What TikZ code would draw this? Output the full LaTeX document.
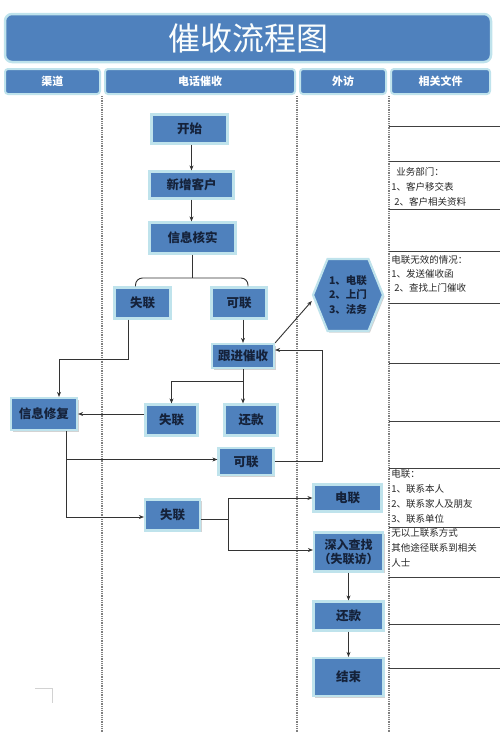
\documentclass[tikz,border=0pt]{standalone}
\usepackage{fontspec}
\setmainfont{Noto Sans CJK SC}
\usetikzlibrary{shapes.symbols}
\usetikzlibrary{shadows}
\usetikzlibrary{arrows.meta}

\definecolor{cellblue}{HTML}{4F81BD}
\definecolor{cellrim}{HTML}{BFE3EC}
\definecolor{inkblue}{HTML}{15223A}

\begin{document}
\begin{tikzpicture}[x=1pt,y=-1pt,thick,
	>={Stealth[length=5pt,width=4pt]},
	box/.style={draw=cellrim,line width=2.2pt,fill=cellblue,text=inkblue,align=center,inner sep=1pt,
		font=\bfseries\fontsize{12.5}{14}\selectfont,
		drop shadow={shadow xshift=1.5pt,shadow yshift=-1.5pt,opacity=0.35}},
	head/.style={draw=cellrim,line width=2pt,fill=cellblue,rounded corners=3pt,text=white,
		font=\bfseries\fontsize{11}{12}\selectfont,minimum height=25pt},
	doc/.style={anchor=west,align=left,inner sep=0pt,text=black!85,font=\fontsize{9.5}{15}\selectfont},
	lane/.style={gray,line width=1.1pt,dash pattern=on 0.9pt off 0.9pt},
	rule/.style={black!75,line width=0.8pt},
	link/.style={black!80,line width=0.9pt}]
	\useasboundingbox (0,0) rectangle (500,732);

	% title and lane heads
	\node[head,rounded corners=7pt,line width=2.5pt,minimum width=486pt,minimum height=48pt,
		font=\fontsize{32}{32}\selectfont,text=white!92!cellrim] (title) at (248,38) {催收流程图};
	\node[head,minimum width=95pt] (hchan) at (52.5,81.5) {渠道};
	\node[head,minimum width=190pt] (hcall) at (200,81.5) {电话催收};
	\node[head,minimum width=86pt] (hvisit) at (343,81.5) {外访};
	\node[head,minimum width=99pt] (hdoc) at (440.5,81.5) {相关文件};

	\foreach \lx in {102,297,389}
		\draw[lane] (\lx,96) -- (\lx,732);
	\foreach \ry in {126,161,209,251,303,363,421,468,527,577,624,668}
		\draw[rule] (389,\ry) -- (500,\ry);

	% documents
	\node[doc] (docdept) at (391,187) {\hspace*{5pt}业务部门：\\1、客户移交表\\\hspace*{3pt}2、客户相关资料};
	\node[doc,font=\fontsize{9.5}{14}\selectfont] (docfail) at (391,274) {电联无效的情况：\\1、发送催收函\\\hspace*{3pt}2、查找上门催收};
	\node[doc] (doccall) at (391,496) {电联：\\1、联系本人\\2、联系家人及朋友\\3、联系单位};
	\node[doc] (docdeep) at (391,548) {无以上联系方式\\其他途径联系到相关\\人士};

	% steps
	\node[box,minimum width=76pt,minimum height=29pt] (start) at (189.5,129) {开始};
	\node[box,minimum width=84pt,minimum height=27pt] (newc) at (191.5,185) {新增客户};
	\node[box,minimum width=86pt,minimum height=31pt] (check) at (192.5,238) {信息核实};
	\node[box,minimum width=56pt,minimum height=31pt] (lostA) at (142.5,303) {失联};
	\node[box,minimum width=55pt,minimum height=31pt] (okA) at (239,303) {可联};
	\node[box,minimum width=62pt,minimum height=24pt] (follow) at (243,356) {跟进催收};
	\node[box,shape=signal,signal to=west and east,signal pointer angle=136,
		minimum width=70pt,minimum height=72pt,
		font=\bfseries\fontsize{10.5}{14.5}\selectfont] (ways) at (348,295) {1、电联\\2、上门\\3、法务};
	\node[box,minimum width=66pt,minimum height=32pt] (repair) at (44,414) {信息修复};
	\node[box,minimum width=52pt,minimum height=31pt] (lostB) at (171.5,420) {失联};
	\node[box,minimum width=53pt,minimum height=31pt] (payA) at (251,420) {还款};
	\node[box,minimum width=55pt,minimum height=27pt] (okB) at (246,461.5) {可联};
	\node[box,minimum width=55pt,minimum height=31pt] (lostC) at (172.5,515) {失联};
	\node[box,minimum width=68pt,minimum height=27pt] (call) at (347.5,498) {电联};
	\node[box,minimum width=69pt,minimum height=39pt,font=\bfseries\fontsize{12}{14}\selectfont] (deep) at (348.5,552) {深入查找\\（失联访）};
	\node[box,minimum width=70pt,minimum height=29pt] (payB) at (348.5,616) {还款};
	\node[box,minimum width=70pt,minimum height=38pt] (finish) at (348.5,677) {结束};

	% connectors
	\coordinate (fork) at (192,278);
	\draw[link,->] (start.south -| newc.north) -- (newc.north);
	\draw[link,->] (newc.south) -- (newc.south |- check.north);
	\draw[link] (check.south -| fork) -- (fork);
	\draw[link,rounded corners=7pt] ([xshift=-7pt]lostA.north) -- ([xshift=-7pt]lostA.north |- fork)
		-- ([xshift=9pt]okA.north |- fork) -- ([xshift=9pt]okA.north);
	\draw[link,->] (okA.south -| follow.north) -- (follow.north);
	\draw[link,->] (follow.north east) -- ([yshift=-6pt]ways.west);
	\draw[link,->] ([xshift=-14pt]lostA.south) -- ++(0,40) -| ([xshift=15pt]repair.north);
	\draw[link,->] (follow.south) -- (follow.south |- payA.north);
	\draw[link,->] (follow.south) ++(0,12) -| (lostB.north);
	\draw[link,->] (lostB.west |- repair.east) -- (repair.east);
	\draw[link,->] ([xshift=22pt]repair.south) |- ([yshift=2pt]okB.west);
	\draw[link,->] ([xshift=22pt]repair.south) |- ([yshift=-2pt]lostC.west);
	\draw[link,->] (okB.east) -- ++(48,0) |- ([yshift=6pt]follow.east);
	\draw[link,->] ([yshift=-4pt]lostC.east) -- ++(27,0) |- (call.west);
	\draw[link,->] ([yshift=-4pt]lostC.east) -- ++(27,0) |- ([yshift=2pt]deep.west);
	\draw[link,->] (deep) -- (payB);
	\draw[link,->] (payB) -- (finish);

	% corner mark
	\draw[gray!35,line width=0.8pt] (35,688) -- (52,688) -- (52,703);
\end{tikzpicture}
\end{document}
